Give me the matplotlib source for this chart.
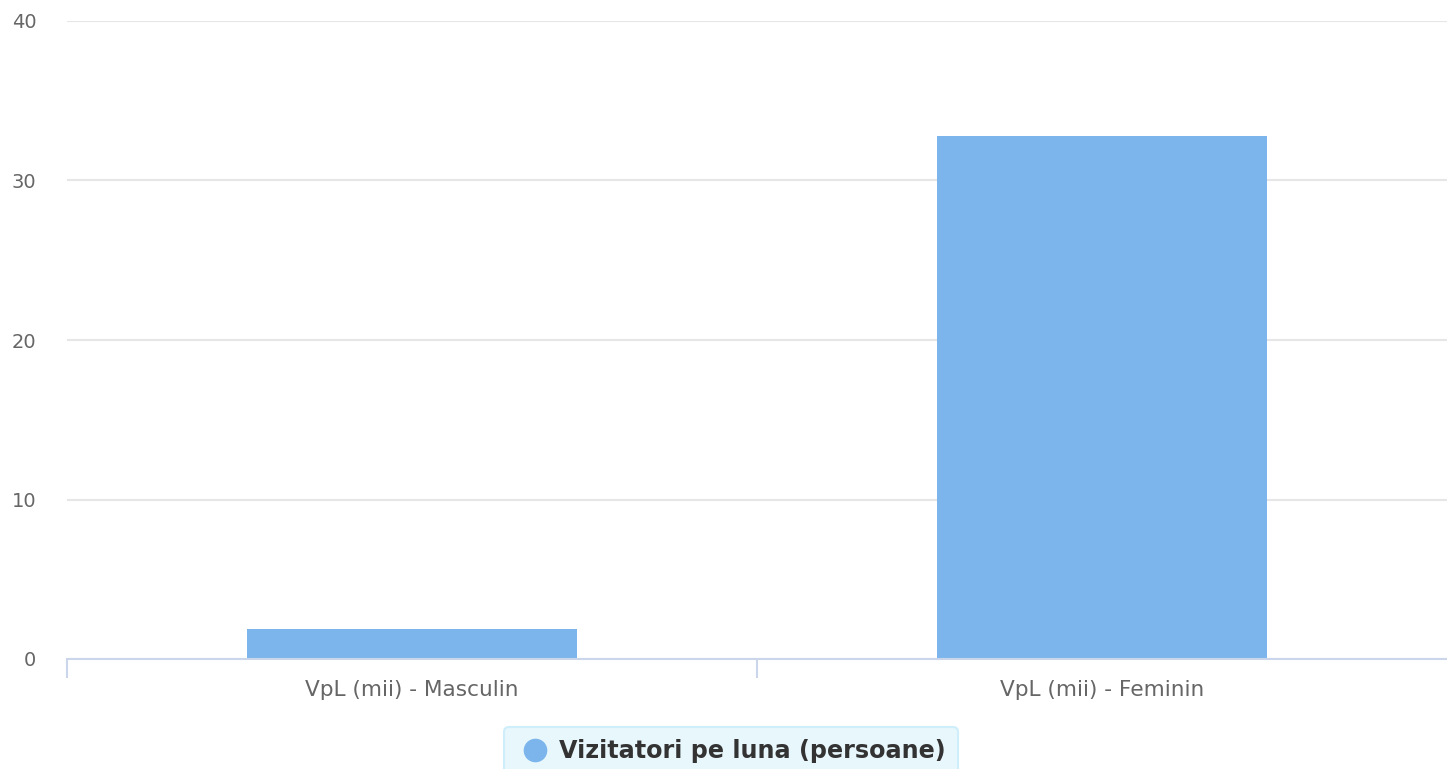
import numpy as np
import matplotlib.pyplot as plt
from matplotlib.lines import Line2D

plt.rcParams['font.family'] = ['DejaVu Sans']

# data
categories = ["VpL (mii) - Masculin", "VpL (mii) - Feminin"]
values = [1.9, 32.8]
series_name = "Vizitatori pe luna (persoane)"
y_ticks = [0, 10, 20, 30, 40]

bar_color = "#7cb5ec"

fig = plt.figure(figsize=(14.47, 7.69), dpi=100)
ax = fig.add_axes([67 / 1447, 110 / 769, 1 - 67 / 1447, 638 / 769])

x = np.arange(len(categories))
ax.bar(x, values, width=0.478, color=bar_color, zorder=3)

ax.set_xlim(-0.5, 1.5)
ax.set_ylim(0, 40)
ax.set_yticks(y_ticks)
ax.set_yticklabels([str(v) for v in y_ticks], color="#666666", fontsize=14)
ax.grid(axis="y", color="#e6e6e6", linewidth=1.5, zorder=0)

ax.set_xticks(x)
ax.set_xticklabels(categories, color="#666666", fontsize=15.6)
# category boundary ticks
ax.set_xticks([-0.5, 0.5], minor=True)
ax.tick_params(axis="x", which="minor", length=14, width=1.5, color="#ccd6eb")
ax.tick_params(axis="x", which="major", length=0, pad=15)
ax.tick_params(axis="y", length=0, pad=22)

for s in ["top", "right", "left"]:
    ax.spines[s].set_visible(False)
ax.spines["bottom"].set_color("#ccd6eb")
ax.spines["bottom"].set_linewidth(1.5)
ax.spines["bottom"].set_zorder(4)

handle = Line2D([], [], marker="o", linestyle="none", markersize=16,
                markerfacecolor=bar_color, markeredgecolor=bar_color)
leg = fig.legend(handles=[handle], labels=[series_name], loc="upper center",
                 bbox_to_anchor=(731 / 1447, 1 - 727 / 769), borderaxespad=0,
                 frameon=True, fancybox=True, framealpha=1,
                 facecolor="#e8f7fc", edgecolor="#cdeefa", handlelength=1.6,
                 handletextpad=0.2, borderpad=0.5,
                 prop={"weight": "bold", "size": 17.2})
for t in leg.get_texts():
    t.set_color("#333333")
leg.get_frame().set_linewidth(1.5)

fig.savefig("out.png", dpi=100)
